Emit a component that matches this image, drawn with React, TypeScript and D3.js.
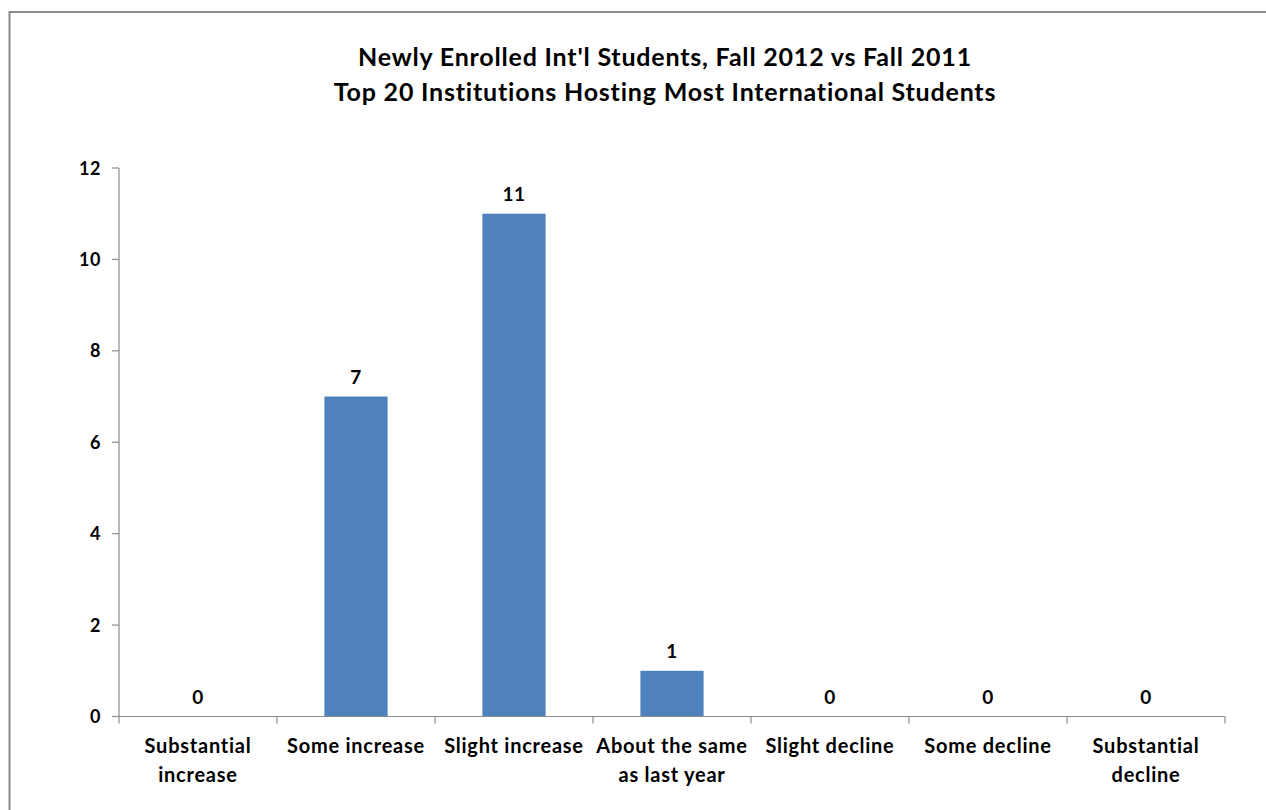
import React from "react";
import * as d3 from "d3";

const titleLines = [
  "Newly Enrolled Int'l Students, Fall 2012 vs Fall 2011",
  "Top 20 Institutions Hosting Most International Students",
];
const categories = [
  "Substantial increase",
  "Some increase",
  "Slight increase",
  "About the same as last year",
  "Slight decline",
  "Some decline",
  "Substantial decline",
];
const categoryLines = [
  ["Substantial", "increase"],
  ["Some increase"],
  ["Slight increase"],
  ["About the same", "as last year"],
  ["Slight decline"],
  ["Some decline"],
  ["Substantial", "decline"],
];
const values = [0, 7, 11, 1, 0, 0, 0];
const yTicks = [0, 2, 4, 6, 8, 10, 12];

const W = 1266;
const H = 810;
const FONT = "Lato, 'Open Sans', sans-serif";
const AXIS = "#8c8c8c";
const BAR = "#4F81BD";

export default function App() {
  const x = d3
    .scaleBand<string>()
    .domain(categories)
    .range([119, 1225])
    .paddingInner(0.6)
    .paddingOuter(0.3);
  const y = d3.scaleLinear().domain([0, 12]).range([716.5, 168]);
  const step = x.step();
  const left = x.range()[0];
  const bounds = d3.range(categories.length + 1).map((i) => left + i * step);
  const y0 = y(0);

  return (
    <svg
      width={W}
      height={H}
      style={{ position: "absolute", left: 0, top: 0, background: "#fff" }}
      fontFamily={FONT}
    >
      <rect x={0} y={0} width={W} height={H} fill="#fff" />
      {/* chart area border */}
      <path d={`M9.5,${H + 5} L9.5,12 L${W + 5},12`} fill="none" stroke="#8a8a8a" strokeWidth={2} />

      {/* title */}
      {titleLines.map((t, i) => (
        <text
          key={i}
          x={665}
          y={66 + i * 35}
          textAnchor="middle"
          fontSize={25}
          letterSpacing={0.8}
          fontWeight="bold"
          fill="#000"
        >
          {t}
        </text>
      ))}

      {/* bars */}
      {values.map((v, i) => (
        <rect
          key={i}
          x={x(categories[i])!}
          y={y(v)}
          width={x.bandwidth()}
          height={y0 - y(v)}
          fill={BAR}
        />
      ))}

      {/* data labels */}
      {values.map((v, i) => (
        <text
          key={i}
          x={x(categories[i])! + x.bandwidth() / 2}
          y={y(v) - 13}
          textAnchor="middle"
          fontSize={19}
          letterSpacing={0.5}
          fontWeight="bold"
          fill="#000"
        >
          {v}
        </text>
      ))}

      {/* y axis */}
      <line x1={119} x2={119} y1={y(12)} y2={y0} stroke={AXIS} strokeWidth={1.2} />
      {yTicks.map((t) => (
        <g key={t}>
          <line x1={112} x2={119} y1={y(t)} y2={y(t)} stroke={AXIS} strokeWidth={1.2} />
          <text
            x={101}
            y={y(t) + 6.5}
            textAnchor="end"
            fontSize={18}
            letterSpacing={0.5}
            fontWeight="bold"
            fill="#000"
          >
            {t}
          </text>
        </g>
      ))}

      {/* x axis */}
      <line x1={left} x2={bounds[bounds.length - 1]} y1={y0} y2={y0} stroke={AXIS} strokeWidth={1.2} />
      {bounds.map((b, i) => (
        <line key={i} x1={b} x2={b} y1={y0} y2={y0 + 7} stroke={AXIS} strokeWidth={1.2} />
      ))}
      {categories.map((c, i) =>
        categoryLines[i].map((ln, j) => (
          <text
            key={c + j}
            x={x(c)! + x.bandwidth() / 2}
            y={753 + j * 29}
            textAnchor="middle"
            fontSize={20}
            letterSpacing={0.75}
            fontWeight="bold"
            fill="#000"
          >
            {ln}
          </text>
        ))
      )}
    </svg>
  );
}
